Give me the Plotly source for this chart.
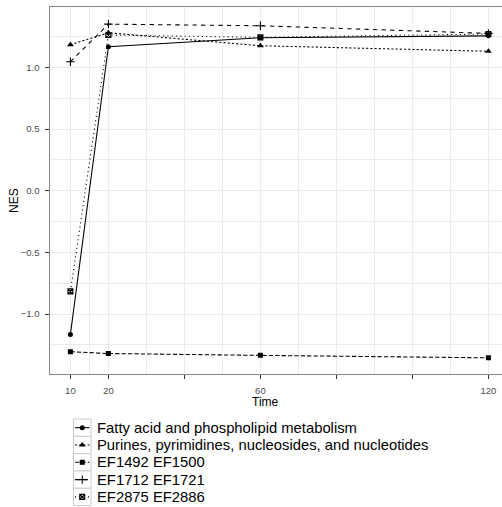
import plotly.graph_objects as go

# ---- data ----
times = [10, 20, 60, 120]
series_names = [
    "Fatty acid and phospholipid metabolism",
    "Purines, pyrimidines, nucleosides, and nucleotides",
    "EF1492 EF1500",
    "EF1712 EF1721",
    "EF2875 EF2886",
]
fatty = [-1.165, 1.167, 1.240, 1.255]
purines = [1.183, 1.280, 1.175, 1.130]
ef1492 = [-1.305, -1.320, -1.335, -1.355]
ef1712 = [1.045, 1.350, 1.337, 1.275]
ef2875 = [-0.816, 1.262, 1.243, 1.270]
series_values = [fatty, purines, ef1492, ef1712, ef2875]

x_tickvals = [10, 20, 40, 60, 80, 100, 120]
x_ticktext = ["10", "20", "", "60", "", "", "120"]
x_minor = [15, 30, 50, 70, 90, 110]
y_tickvals = [-1.0, -0.5, 0.0, 0.5, 1.0]
y_ticktext = ["\u22121.0", "\u22120.5", "0.0", "0.5", "1.0"]
y_minor = [-1.25, -0.75, -0.25, 0.25, 0.75, 1.25]

# ---- styles ----
W, H = 502, 507
FONT = "Liberation Sans"
lw = 1.07
dashes = ["solid", "2.1px,2.1px", "4.3px,2.1px", "4.3px,4.3px", "1.1px,3.2px"]
symbols = ["circle", "triangle-up", "square", "cross-thin-open", "square-x-open"]
msizes = [5, 6, 5, 6, 5]
mline = [0, 0, 0, 1.1, 1.1]

fig = go.Figure()

for name, vals, d, s, ms, ml in zip(series_names, series_values, dashes, symbols, msizes, mline):
    fig.add_trace(go.Scatter(
        x=times, y=vals, mode="lines+markers", name=name, showlegend=False,
        line=dict(color="black", width=lw, dash=d),
        marker=dict(symbol=s, size=ms, color="black", line=dict(color="black", width=ml)),
        xaxis="x", yaxis="y",
    ))

# ---- manual legend (pixel-space overlay axes) ----
key_x0, key_x1 = 73.5, 91.0
row0, row_h = 427.7, 17.3
text_x = 95
for i, (name, d, s, ms, ml) in enumerate(zip(series_names, dashes, symbols, msizes, mline)):
    cy = row0 + i * row_h
    fig.add_shape(type="rect", xref="x2", yref="y2",
                  x0=key_x0, x1=key_x1, y0=cy - row_h / 2, y1=cy + row_h / 2,
                  line=dict(color="#cccccc", width=1), fillcolor="white", layer="below")
    fig.add_trace(go.Scatter(
        x=[key_x0 + 1.5, key_x1 - 1.5], y=[cy, cy], mode="lines", showlegend=False,
        line=dict(color="black", width=lw, dash=d), xaxis="x2", yaxis="y2", hoverinfo="skip",
    ))
    fig.add_trace(go.Scatter(
        x=[(key_x0 + key_x1) / 2], y=[cy], mode="markers", showlegend=False,
        marker=dict(symbol=s, size=ms, color="black", line=dict(color="black", width=ml)),
        xaxis="x2", yaxis="y2", hoverinfo="skip",
    ))
    fig.add_annotation(xref="x2", yref="y2", x=text_x, y=cy, text=name, showarrow=False,
                       xanchor="left", yanchor="middle",
                       font=dict(family=FONT, size=14.8, color="black"))

# ---- axes ----
panel_left, panel_top, panel_bottom = 49.5, 7, 374
px_per_x = 3.8
x_lo = 4.5
x_hi = x_lo + (W - panel_left) / px_per_x
y_lo, y_hi = -1.486, 1.489

axis_line = "#888888"
grid = "#ebebeb"
fig.update_layout(
    width=W, height=H,
    margin=dict(l=0, r=0, t=0, b=0),
    paper_bgcolor="white", plot_bgcolor="rgba(0,0,0,0)",
    font=dict(family=FONT),
    xaxis=dict(
        domain=[panel_left / W, 1], range=[x_lo, x_hi], anchor="y",
        tickmode="array", tickvals=x_tickvals, ticktext=x_ticktext,
        ticks="outside", ticklen=4, tickwidth=1, tickcolor="#333333",
        ticklabelstandoff=3,
        tickfont=dict(family=FONT, size=9.6, color="#4d4d4d"),
        showline=True, linecolor=axis_line, linewidth=1, mirror=True,
        showgrid=True, gridcolor=grid, gridwidth=1.07, zeroline=False,
        minor=dict(tickmode="array", tickvals=x_minor, showgrid=True, gridcolor=grid, gridwidth=0.55, ticks=""),
        fixedrange=True,
    ),
    yaxis=dict(
        domain=[(H - panel_bottom) / H, (H - panel_top) / H], range=[y_lo, y_hi], anchor="x",
        tickmode="array", tickvals=y_tickvals, ticktext=y_ticktext,
        ticks="outside", ticklen=4, tickwidth=1, tickcolor="#333333",
        ticklabelstandoff=3,
        tickfont=dict(family=FONT, size=9.6, color="#4d4d4d"),
        showline=True, linecolor=axis_line, linewidth=1,
        showgrid=True, gridcolor=grid, gridwidth=1.07, zeroline=False,
        minor=dict(tickmode="array", tickvals=y_minor, showgrid=True, gridcolor=grid, gridwidth=0.55, ticks=""),
        fixedrange=True,
    ),
    xaxis2=dict(domain=[0, 1], range=[0, W], anchor="y2", visible=False, fixedrange=True),
    yaxis2=dict(domain=[0, 1], range=[H, 0], anchor="x2", visible=False, fixedrange=True),
    showlegend=False,
)

fig.add_annotation(xref="paper", yref="paper", x=265 / W, y=1 - 402 / H, text="Time",
                   showarrow=False, xanchor="center", yanchor="middle",
                   font=dict(family=FONT, size=12, color="black"))
fig.add_annotation(xref="paper", yref="paper", x=14 / W, y=1 - 201 / H, text="NES",
                   showarrow=False, textangle=-90, xanchor="center", yanchor="middle",
                   font=dict(family=FONT, size=12, color="black"))

fig.write_html("out.html")
